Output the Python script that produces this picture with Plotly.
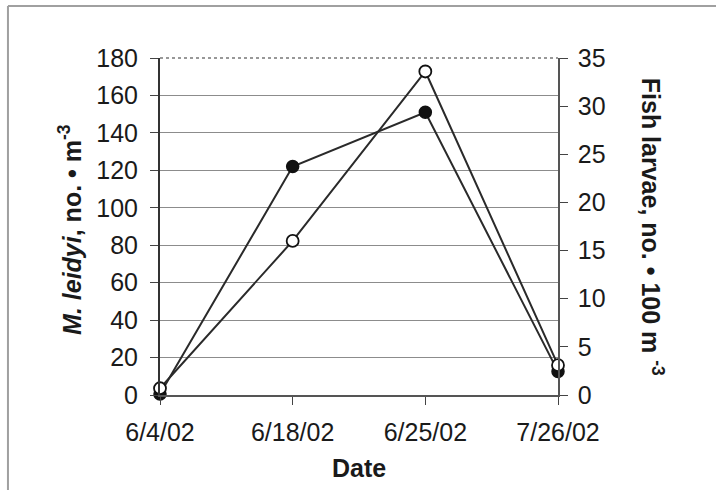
import plotly.graph_objects as go

# Sampling dates (category axis)
dates = ["6/4/02", "6/18/02", "6/25/02", "7/26/02"]
# Mnemiopsis leidyi density, no. per m^3 (left axis, filled circles)
leidyi = [0.5, 122, 151, 12.5]
# Fish larvae density, no. per 100 m^3 (right axis, open circles)
larvae = [0.7, 16, 33.6, 3.1]

left_ticks = list(range(0, 181, 20))
right_ticks = list(range(0, 36, 5))

FONT = "Liberation Sans, Arial, sans-serif"
INK = "#1a1a1a"
TICK_SIZE = 25
TITLE_SIZE = 25

fig = go.Figure()
fig.add_trace(go.Scatter(
    x=dates, y=leidyi, mode="lines+markers", yaxis="y", cliponaxis=False,
    line=dict(color="#2a2a2a", width=2),
    marker=dict(symbol="circle", size=12, color="#111111",
                line=dict(color="#111111", width=1.5)),
    showlegend=False,
))
fig.add_trace(go.Scatter(
    x=dates, y=larvae, mode="lines+markers", yaxis="y2", cliponaxis=False,
    line=dict(color="#2a2a2a", width=2),
    marker=dict(symbol="circle", size=12, color="white",
                line=dict(color="#111111", width=1.8)),
    showlegend=False,
))

fig.update_layout(
    width=716, height=490,
    margin=dict(l=160, r=158, t=58, b=95),
    paper_bgcolor="white", plot_bgcolor="white",
    font=dict(family=FONT, size=TICK_SIZE, color=INK),
    xaxis=dict(
        type="category", categoryorder="array", categoryarray=dates,
        range=[0, 3], showgrid=False, zeroline=False,
        showline=True, linecolor="#555555", linewidth=1.5,
        ticks="outside", ticklen=8, tickcolor="#444444", tickwidth=1,
        ticklabelstandoff=6,
        tickfont=dict(family=FONT, size=TICK_SIZE, color=INK),
    ),
    yaxis=dict(
        range=[0, 180], tickvals=left_ticks,
        showgrid=True, gridcolor="#8c8c8c", gridwidth=1, zeroline=False,
        showline=True, linecolor="#333333", linewidth=2,
        ticks="outside", ticklen=8, tickcolor="#444444", tickwidth=1,
        ticklabelstandoff=7,
        tickfont=dict(family=FONT, size=TICK_SIZE, color=INK),
    ),
    yaxis2=dict(
        range=[0, 35], tickvals=right_ticks, overlaying="y", side="right",
        showgrid=False, zeroline=False,
        showline=True, linecolor="#555555", linewidth=1.5,
        ticks="outside", ticklen=8, tickcolor="#444444", tickwidth=1,
        ticklabelstandoff=5,
        tickfont=dict(family=FONT, size=TICK_SIZE, color=INK),
    ),
    annotations=[
        dict(text="<b><i>M. leidyi</i>, no. • m<sup>-3</sup></b>",
             xref="paper", yref="paper", x=-0.226, y=0.49,
             xanchor="center", yanchor="middle", textangle=-90,
             showarrow=False, font=dict(family=FONT, size=TITLE_SIZE, color=INK)),
        dict(text="<b>Fish larvae, no. • 100 m <sup>-3</sup></b>",
             xref="paper", yref="paper", x=1.238, y=0.5,
             xanchor="center", yanchor="middle", textangle=90,
             showarrow=False, font=dict(family=FONT, size=TITLE_SIZE, color=INK)),
        dict(text="<b>Date</b>",
             xref="paper", yref="paper", x=0.5, y=-0.217,
             xanchor="center", yanchor="middle",
             showarrow=False, font=dict(family=FONT, size=TITLE_SIZE, color=INK)),
    ],
    shapes=[
        # frame around the figure (top and left edges)
        dict(type="line", xref="paper", yref="paper",
             x0=-0.382, x1=1.41, y0=1.154, y1=1.154,
             line=dict(color="#a0a0a0", width=2)),
        dict(type="line", xref="paper", yref="paper",
             x0=-0.382, x1=-0.382, y0=1.154, y1=-0.3,
             line=dict(color="#a0a0a0", width=2)),
        # top border of the plot area
        dict(type="line", xref="paper", yref="paper",
             x0=0, x1=1, y0=1, y1=1,
             line=dict(color="#777777", width=1.5, dash="dot")),
    ],
)

fig.write_html("out.html")
